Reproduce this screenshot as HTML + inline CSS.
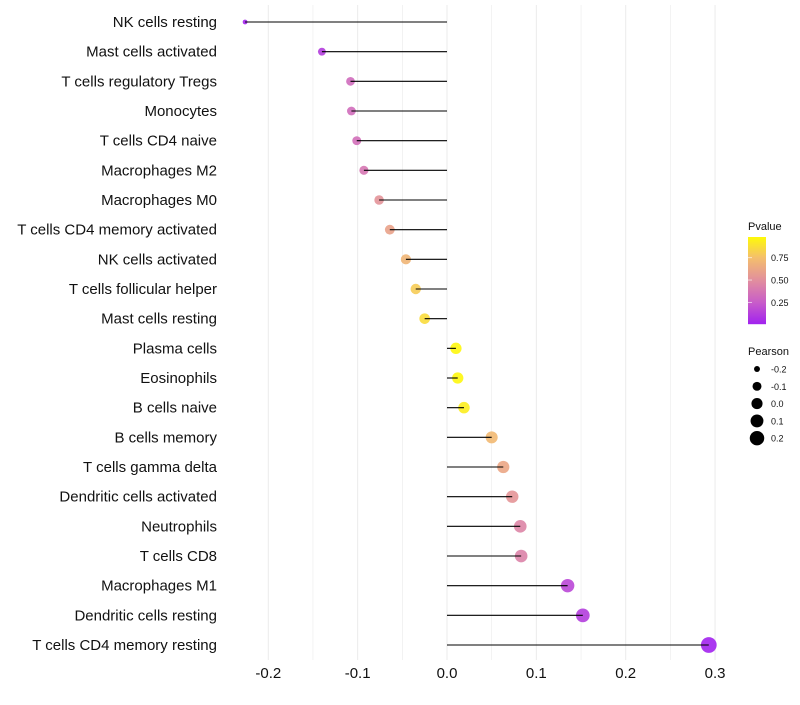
<!DOCTYPE html>
<html><head><meta charset="utf-8"><style>
body{margin:0;background:#fff;}
svg text{font-family:"Liberation Sans",sans-serif;}
</style></head><body>
<svg id="chart" width="800" height="700" xmlns="http://www.w3.org/2000/svg">
<g id="grid"></g>
<g id="marks"></g>
<g id="ylabels"></g>
<g id="xlabels"></g>
<g id="legend"></g>
</svg>
<script>
const categories=["NK cells resting","Mast cells activated","T cells regulatory  Tregs ","Monocytes","T cells CD4 naive","Macrophages M2","Macrophages M0","T cells CD4 memory activated","NK cells activated","T cells follicular helper","Mast cells resting","Plasma cells","Eosinophils","B cells naive","B cells memory","T cells gamma delta","Dendritic cells activated","Neutrophils","T cells CD8","Macrophages M1","Dendritic cells resting","T cells CD4 memory resting"];
const pearson=[-0.226,-0.140,-0.108,-0.107,-0.101,-0.093,-0.076,-0.064,-0.046,-0.035,-0.025,0.010,0.012,0.019,0.050,0.063,0.073,0.082,0.083,0.135,0.152,0.293];
const pvalue=[0.02,0.12,0.32,0.33,0.34,0.38,0.52,0.6,0.7,0.8,0.86,0.97,0.97,0.93,0.72,0.62,0.53,0.45,0.44,0.16,0.12,0.01];
const xTicks=[-0.2,-0.1,0.0,0.1,0.2,0.3];
const xTickLabels=["-0.2","-0.1","0.0","0.1","0.2","0.3"];
const colorTicks=[0.25,0.5,0.75];
const sizeTicks=[-0.2,-0.1,0.0,0.1,0.2];

const NS="http://www.w3.org/2000/svg";
function X(v){return 447+v*893.5;}
function Y(i){return 22+i*29.667;}
function R(v){return Math.sqrt(Math.max(26.6+100*v,2))+0.4;}
const stops=[[0,[160,32,240]],[0.25,[200,93,201]],[0.5,[226,143,157]],[0.75,[244,191,108]],[1,[255,255,0]]];
function C(p){p=Math.max(0,Math.min(1,p));for(let k=1;k<stops.length;k++){if(p<=stops[k][0]){const a=stops[k-1],b=stops[k];const t=(p-a[0])/(b[0]-a[0]);const c=a[1].map((x,j)=>Math.round(x+(b[1][j]-x)*t));return `rgb(${c})`;}}return "rgb(255,255,0)";}
function el(tag,attrs,parent){const e=document.createElementNS(NS,tag);for(const k in attrs)e.setAttribute(k,attrs[k]);parent.appendChild(e);return e;}
const grid=document.getElementById('grid'),marks=document.getElementById('marks'),yl=document.getElementById('ylabels'),xl=document.getElementById('xlabels'),lg=document.getElementById('legend');
for(let k=-5;k<=6;k++){const v=k*0.05;const x=X(v);if(x<225)continue;
 const g=el('line',{x1:x,x2:x,y1:5,y2:660,stroke:'#ebebeb','stroke-width':(k%2===0)?1:0.6},grid);
 
 }
categories.forEach((c,i)=>{
 const y=Y(i);
 const pt=el('circle',{cx:X(pearson[i]),cy:y,r:R(pearson[i]),fill:C(pvalue[i]),'fill-opacity':0.9},marks);
 
 
 const ln=el('line',{x1:X(0),x2:X(pearson[i]),y1:y,y2:y,stroke:'#000','stroke-width':1.1},marks);
 
 
 const t=el('text',{x:217,y:y+5,'text-anchor':'end','font-size':15,fill:'#111'},yl);t.textContent=c;
 
 
});
xTicks.forEach((v,i)=>{const t=el('text',{x:X(v),y:678,'text-anchor':'middle','font-size':15,fill:'#111'},xl);t.textContent=xTickLabels[i];
 
 });
let lt=el('text',{x:748,y:230,'font-size':11,fill:'#111'},lg);lt.textContent='Pvalue';


const cbTop=237,cbBot=324,pmin=0.01,pmax=0.98;
function PY(p){return cbBot-(p-pmin)/(pmax-pmin)*(cbBot-cbTop);}
for(let yy=cbTop;yy<cbBot;yy++){const p=pmin+(cbBot-yy-0.5)/(cbBot-cbTop)*(pmax-pmin);
 const r=el('rect',{x:748,y:yy,width:18,height:1.2,fill:C(p)},lg);
 
 }
colorTicks.forEach(p=>{const y=PY(p);
 const l=el('line',{x1:748,x2:752,y1:y,y2:y,stroke:'#fff','stroke-opacity':0.6},lg);
 
 
 const tt=el('text',{x:771,y:y+3.5,'font-size':9,fill:'#111'},lg);tt.textContent=p.toFixed(2);
 
 });
lt=el('text',{x:748,y:355,'font-size':11,fill:'#111'},lg);lt.textContent='Pearson';


sizeTicks.forEach((v,i)=>{const y=369+i*17.3;
 const c=el('circle',{cx:757,cy:y,r:R(v),fill:'#000'},lg);
 
 
 const tt=el('text',{x:771,y:y+3.5,'font-size':9,fill:'#111'},lg);tt.textContent=v.toFixed(1);
 
 });
</script>
</body></html>
